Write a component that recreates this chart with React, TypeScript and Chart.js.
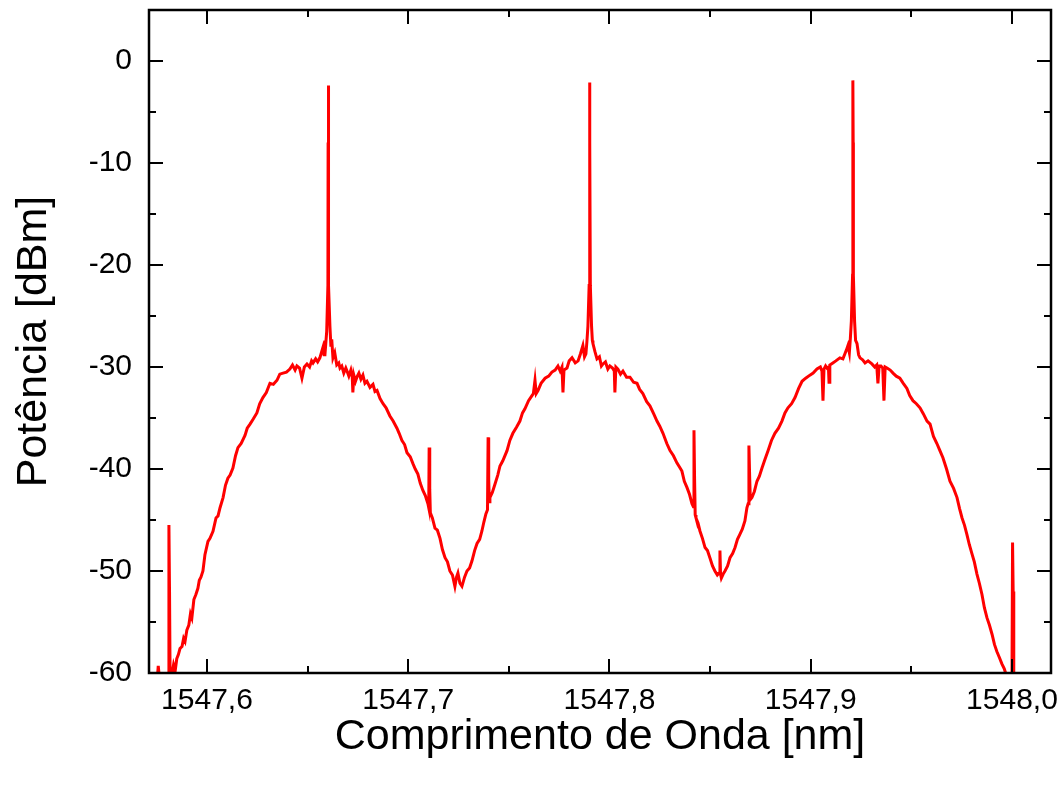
import React, { useEffect, useRef } from 'react';
import { Chart, registerables } from 'chart.js';

Chart.register(...registerables);

// Wavelength in nm
const wavelength: number[] = [
  1547.5750, 1547.5758, 1547.5766, 1547.5780, 1547.5800, 1547.5808, 1547.5811, 1547.5814, 1547.5817, 1547.5826,
  1547.5834, 1547.5842, 1547.5850, 1547.5858, 1547.5866, 1547.5876, 1547.5884, 1547.5891, 1547.5900, 1547.5910,
  1547.5918, 1547.5925, 1547.5935, 1547.5945, 1547.5955, 1547.5962, 1547.5970, 1547.5980, 1547.5990, 1547.6005,
  1547.6015, 1547.6030, 1547.6045, 1547.6055, 1547.6065, 1547.6080, 1547.6092, 1547.6104, 1547.6115, 1547.6129,
  1547.6142, 1547.6154, 1547.6170, 1547.6189, 1547.6200, 1547.6214, 1547.6230, 1547.6248, 1547.6262, 1547.6278,
  1547.6295, 1547.6313, 1547.6330, 1547.6348, 1547.6362, 1547.6378, 1547.6395, 1547.6412, 1547.6425, 1547.6438,
  1547.6447, 1547.6460, 1547.6472, 1547.6484, 1547.6497, 1547.6510, 1547.6520, 1547.6527, 1547.6540, 1547.6550,
  1547.6561, 1547.6570, 1547.6576, 1547.6582, 1547.6586, 1547.6590, 1547.6595, 1547.6601, 1547.6602, 1547.6603,
  1547.6604, 1547.6605, 1547.6611, 1547.6616, 1547.6620, 1547.6626, 1547.6635, 1547.6645, 1547.6655, 1547.6661,
  1547.6670, 1547.6680, 1547.6690, 1547.6696, 1547.6705, 1547.6715, 1547.6722, 1547.6725, 1547.6730, 1547.6738,
  1547.6745, 1547.6755, 1547.6765, 1547.6775, 1547.6785, 1547.6795, 1547.6810, 1547.6825, 1547.6835, 1547.6845,
  1547.6860, 1547.6875, 1547.6890, 1547.6909, 1547.6925, 1547.6944, 1547.6955, 1547.6969, 1547.6982, 1547.6994,
  1547.7010, 1547.7024, 1547.7035, 1547.7048, 1547.7060, 1547.7073, 1547.7085, 1547.7098, 1547.7102, 1547.7104,
  1547.7107, 1547.7110, 1547.7120, 1547.7133, 1547.7145, 1547.7158, 1547.7170, 1547.7183, 1547.7195, 1547.7207,
  1547.7220, 1547.7232, 1547.7240, 1547.7247, 1547.7257, 1547.7267, 1547.7280, 1547.7292, 1547.7305, 1547.7317,
  1547.7330, 1547.7342, 1547.7355, 1547.7366, 1547.7376, 1547.7386, 1547.7394, 1547.7397, 1547.7400, 1547.7403,
  1547.7406, 1547.7418, 1547.7431, 1547.7445, 1547.7456, 1547.7470, 1547.7491, 1547.7505, 1547.7520, 1547.7538,
  1547.7555, 1547.7568, 1547.7580, 1547.7598, 1547.7615, 1547.7622, 1547.7630, 1547.7636, 1547.7645, 1547.7660,
  1547.7680, 1547.7698, 1547.7714, 1547.7730, 1547.7744, 1547.7755, 1547.7764, 1547.7769, 1547.7774, 1547.7789,
  1547.7800, 1547.7814, 1547.7830, 1547.7844, 1547.7856, 1547.7868, 1547.7876, 1547.7883, 1547.7888, 1547.7893,
  1547.7899, 1547.7901, 1547.7902, 1547.7903, 1547.7905, 1547.7911, 1547.7915, 1547.7918, 1547.7928, 1547.7938,
  1547.7950, 1547.7960, 1547.7968, 1547.7980, 1547.7992, 1547.8002, 1547.8015, 1547.8024, 1547.8027, 1547.8032,
  1547.8042, 1547.8055, 1547.8067, 1547.8085, 1547.8102, 1547.8120, 1547.8137, 1547.8150, 1547.8166, 1547.8185,
  1547.8201, 1547.8220, 1547.8236, 1547.8250, 1547.8266, 1547.8285, 1547.8301, 1547.8318, 1547.8335, 1547.8348,
  1547.8360, 1547.8372, 1547.8385, 1547.8398, 1547.8410, 1547.8417, 1547.8420, 1547.8423, 1547.8426, 1547.8430,
  1547.8440, 1547.8450, 1547.8462, 1547.8475, 1547.8487, 1547.8499, 1547.8512, 1547.8524, 1547.8536, 1547.8545,
  1547.8549, 1547.8552, 1547.8556, 1547.8565, 1547.8574, 1547.8587, 1547.8599, 1547.8612, 1547.8624, 1547.8636,
  1547.8648, 1547.8660, 1547.8673, 1547.8683, 1547.8689, 1547.8693, 1547.8697, 1547.8700, 1547.8708, 1547.8720,
  1547.8733, 1547.8745, 1547.8758, 1547.8772, 1547.8788, 1547.8805, 1547.8822, 1547.8840, 1547.8857, 1547.8872,
  1547.8887, 1547.8905, 1547.8922, 1547.8940, 1547.8957, 1547.8975, 1547.8996, 1547.9012, 1547.9031, 1547.9048,
  1547.9056, 1547.9061, 1547.9066, 1547.9074, 1547.9081, 1547.9088, 1547.9091, 1547.9095, 1547.9110, 1547.9125,
  1547.9145, 1547.9160, 1547.9170, 1547.9178, 1547.9185, 1547.9192, 1547.9197, 1547.9202, 1547.9208, 1547.9209,
  1547.9210, 1547.9211, 1547.9212, 1547.9218, 1547.9223, 1547.9230, 1547.9238, 1547.9245, 1547.9258, 1547.9270,
  1547.9285, 1547.9304, 1547.9318, 1547.9328, 1547.9334, 1547.9340, 1547.9349, 1547.9358, 1547.9364, 1547.9370,
  1547.9379, 1547.9395, 1547.9409, 1547.9425, 1547.9443, 1547.9460, 1547.9478, 1547.9492, 1547.9508, 1547.9525,
  1547.9543, 1547.9560, 1547.9578, 1547.9593, 1547.9610, 1547.9627, 1547.9642, 1547.9657, 1547.9675, 1547.9692,
  1547.9710, 1547.9727, 1547.9740, 1547.9752, 1547.9764, 1547.9776, 1547.9788, 1547.9801, 1547.9813, 1547.9826,
  1547.9838, 1547.9851, 1547.9863, 1547.9876, 1547.9888, 1547.9901, 1547.9913, 1547.9925, 1547.9938, 1547.9950,
  1547.9962, 1547.9975, 1547.9990, 1548.0000, 1548.0003, 1548.0006, 1548.0009, 1548.0030, 1548.0060,
];

// Power in dBm
const power: number[] = [
  -61.5, -59.3, -61.0, -61.5, -61.0, -60.5, -45.5, -52.0, -61.0, -60.1,
  -59.2, -59.8, -58.6, -58.2, -57.6, -57.4, -56.6, -56.9, -55.8, -55.3,
  -54.2, -54.6, -52.8, -52.3, -51.7, -50.9, -50.6, -50.0, -48.4, -47.1,
  -46.8, -46.1, -44.8, -44.6, -43.8, -42.8, -41.6, -40.9, -40.6, -39.9,
  -38.7, -37.9, -37.5, -36.7, -36.0, -35.6, -35.1, -34.5, -33.6, -33.0,
  -32.5, -31.6, -31.7, -31.3, -30.7, -30.6, -30.5, -30.2, -29.8, -30.3,
  -29.9, -30.1, -31.1, -30.0, -29.7, -30.0, -29.4, -29.6, -29.2, -29.5,
  -29.1, -28.5, -28.1, -28.8, -27.4, -27.8, -26.5, -22.0, -8.0, -2.4,
  -8.0, -22.0, -26.0, -28.0, -27.3, -29.1, -28.6, -29.8, -29.6, -30.1,
  -29.9, -30.6, -30.1, -30.4, -30.9, -30.3, -31.0, -32.5, -30.8, -31.4,
  -31.0, -30.6, -31.2, -30.8, -31.6, -31.4, -32.0, -31.7, -32.4, -32.3,
  -33.1, -33.6, -34.0, -34.8, -35.3, -36.0, -36.5, -37.2, -37.6, -38.4,
  -38.8, -39.5, -40.0, -40.5, -41.4, -42.1, -42.6, -43.4, -43.8, -37.9,
  -42.0, -44.3, -44.8, -45.8, -46.0, -46.8, -47.9, -48.7, -49.1, -50.0,
  -50.4, -51.5, -50.6, -50.2, -51.2, -51.5, -50.6, -50.0, -49.7, -49.0,
  -48.0, -47.3, -46.9, -46.1, -45.2, -44.4, -44.0, -36.9, -41.0, -43.2,
  -42.8, -42.3, -41.5, -40.6, -39.7, -39.2, -38.2, -37.2, -36.5, -35.9,
  -35.3, -34.5, -34.1, -33.3, -32.8, -32.6, -31.3, -32.6, -32.3, -31.6,
  -31.1, -30.9, -30.5, -30.3, -29.9, -30.4, -30.0, -32.5, -30.3, -30.1,
  -29.4, -29.1, -29.6, -29.4, -28.7, -27.9, -29.0, -28.7, -27.5, -26.0,
  -22.0, -8.0, -2.1, -8.0, -22.0, -26.0, -27.4, -27.7, -28.5, -29.2,
  -29.0, -29.9, -29.7, -29.5, -30.2, -29.9, -30.1, -30.4, -32.5, -30.0,
  -30.2, -30.7, -30.4, -31.0, -31.0, -31.5, -31.6, -32.2, -32.6, -33.4,
  -33.8, -34.6, -35.3, -35.8, -36.5, -37.5, -38.2, -38.7, -39.4, -39.8,
  -40.2, -41.2, -41.8, -42.5, -43.4, -43.7, -36.2, -41.0, -44.5, -44.8,
  -45.3, -46.1, -46.8, -47.7, -48.0, -48.7, -49.5, -50.0, -50.4, -50.2,
  -48.0, -50.3, -50.7, -50.3, -50.0, -49.5, -48.7, -48.3, -47.7, -46.9,
  -46.4, -45.9, -45.1, -43.8, -43.4, -37.7, -41.0, -43.0, -42.8, -42.2,
  -41.2, -40.7, -39.9, -39.1, -38.2, -37.2, -36.5, -36.0, -35.3, -34.5,
  -34.0, -33.6, -33.0, -32.1, -31.4, -31.1, -30.8, -30.6, -30.2, -30.0,
  -30.4, -33.3, -30.2, -29.9, -30.1, -30.0, -31.5, -29.8, -29.6, -29.4,
  -29.1, -29.2, -28.7, -28.3, -27.9, -28.6, -27.2, -25.5, -21.0, -8.0,
  -1.9, -8.0, -21.0, -25.5, -27.4, -27.7, -28.8, -29.1, -29.3, -29.6,
  -29.4, -29.7, -30.0, -29.8, -31.6, -29.9, -29.9, -30.1, -33.3, -30.0,
  -30.1, -30.3, -30.6, -30.9, -31.1, -31.6, -32.1, -32.8, -33.3, -33.6,
  -34.0, -34.6, -35.3, -35.6, -36.8, -37.5, -38.2, -38.9, -40.0, -41.2,
  -41.9, -42.8, -43.9, -44.8, -45.5, -46.4, -47.4, -48.3, -49.1, -50.3,
  -51.2, -52.3, -53.6, -54.6, -55.3, -56.2, -57.2, -57.9, -58.5, -59.1,
  -59.6, -60.4, -61.5, -61.0, -47.2, -52.0, -61.5, -62.0, -62.0,
];

const xMajorTicks: number[] = [1547.6, 1547.7, 1547.8, 1547.9, 1548.0];
const xMinorTicks: number[] = [1547.65, 1547.75, 1547.85, 1547.95];
const yMajorTicks: number[] = [-60, -50, -40, -30, -20, -10, 0];
const yMinorTicks: number[] = [-55, -45, -35, -25, -15, -5];

const FONT = "'Liberation Sans', Arial, sans-serif";

const framePlugin = {
  id: 'originFrame',
  afterDatasetsDraw(chart: any) {
    const { ctx, chartArea: a, scales } = chart;
    const x = scales.x;
    const y = scales.y;
    ctx.save();
    ctx.strokeStyle = '#000';
    ctx.lineWidth = 2;
    ctx.lineCap = 'butt';
    ctx.beginPath();
    const xt = (v: number, len: number) => {
      const p = Math.round(x.getPixelForValue(v));
      ctx.moveTo(p, a.bottom);
      ctx.lineTo(p, a.bottom - len);
      ctx.moveTo(p, a.top);
      ctx.lineTo(p, a.top + len);
    };
    const yt = (v: number, len: number) => {
      const p = Math.round(y.getPixelForValue(v));
      ctx.moveTo(a.left, p);
      ctx.lineTo(a.left + len, p);
      ctx.moveTo(a.right, p);
      ctx.lineTo(a.right - len, p);
    };
    xMajorTicks.forEach((v) => xt(v, 14));
    xMinorTicks.forEach((v) => xt(v, 7));
    yMajorTicks.forEach((v) => yt(v, 14));
    yMinorTicks.forEach((v) => yt(v, 7));
    ctx.stroke();
    ctx.lineWidth = 2.5;
    ctx.strokeRect(a.left, a.top, a.right - a.left, a.bottom - a.top);
    ctx.restore();
  },
};

export default function App() {
  const ref = useRef<HTMLCanvasElement>(null);
  useEffect(() => {
    document.body.style.margin = '0';
    const points = wavelength.map((w, i) => ({ x: w, y: power[i] }));
    const chart = new Chart(ref.current as HTMLCanvasElement, {
      type: 'line',
      data: {
        datasets: [
          {
            data: points,
            borderColor: '#ff0000',
            borderWidth: 3,
            pointRadius: 0,
            tension: 0,
            fill: false,
            clip: 0,
          } as any,
        ],
      },
      options: {
        responsive: false,
        animation: false,
        devicePixelRatio: 1,
        layout: { padding: { top: 10, right: 12, left: 0, bottom: 0 } },
        plugins: { legend: { display: false }, tooltip: { enabled: false } },
        scales: {
          x: {
            type: 'linear',
            min: 1547.5712,
            max: 1548.0194,
            afterBuildTicks: (s: any) => {
              s.ticks = xMajorTicks.map((v) => ({ value: v }));
            },
            afterFit: (s: any) => {
              s.height = 116;
              s.paddingLeft = 0;
              s.paddingRight = 0;
            },
            grid: { display: false, drawTicks: false },
            border: { display: false },
            ticks: {
              autoSkip: false,
              maxRotation: 0,
              padding: 10,
              color: '#000',
              font: { family: FONT, size: 30 },
              callback: (v: any) => Number(v).toFixed(1).replace('.', ','),
            },
            title: {
              display: true,
              text: 'Comprimento de Onda [nm]',
              color: '#000',
              font: { family: FONT, size: 43 },
              padding: { top: 26, bottom: 26 },
            },
          },
          y: {
            type: 'linear',
            min: -60,
            max: 5,
            afterBuildTicks: (s: any) => {
              s.ticks = yMajorTicks.map((v) => ({ value: v }));
            },
            afterFit: (s: any) => {
              s.width = 149;
              s.paddingTop = 0;
              s.paddingBottom = 0;
            },
            grid: { display: false, drawTicks: false },
            border: { display: false },
            ticks: {
              autoSkip: false,
              padding: 17,
              color: '#000',
              font: { family: FONT, size: 30 },
              callback: (v: any) => String(v),
            },
            title: {
              display: true,
              text: 'Potência [dBm]',
              color: '#000',
              font: { family: FONT, size: 43 },
              padding: { top: 8, bottom: 8 },
            },
          },
        },
      },
      plugins: [framePlugin],
    });
    return () => chart.destroy();
  }, []);
  return (
    <div style={{ position: 'absolute', left: 0, top: 0, width: 1063, height: 789, background: '#fff' }}>
      <canvas ref={ref} width={1063} height={789} style={{ display: 'block' }} />
    </div>
  );
}
